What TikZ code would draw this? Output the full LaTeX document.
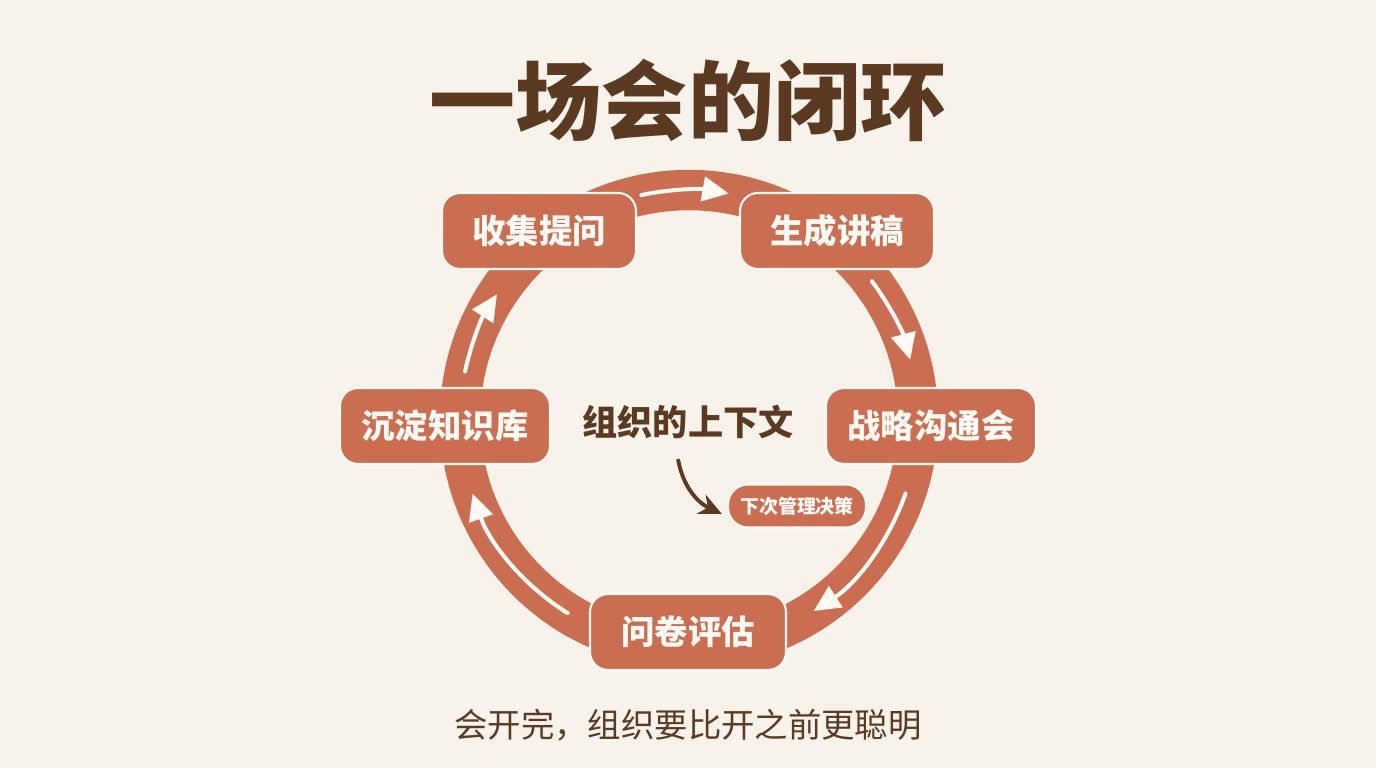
\documentclass[tikz,border=0pt]{standalone}
\usepackage{fontspec}
\newfontfamily\cjk{Noto Sans CJK SC}
\definecolor{CreamBg}{RGB}{247, 243, 234}
\definecolor{RingOrange}{RGB}{203, 109, 81}
\definecolor{DarkBrown}{RGB}{92, 58, 34}
\definecolor{SoftWhite}{RGB}{255, 251, 244}
\usetikzlibrary{arrows.meta}

\begin{document}
\begin{tikzpicture}[
        x=0.02cm, y=0.02cm,
        stage/.style={draw=SoftWhite, line width=1.2pt, rounded corners=0.36cm,
                     fill=RingOrange, text=SoftWhite, inner sep=0pt,
                     minimum height=1.52cm, minimum width=3.88cm,
                     font=\cjk\bfseries\fontsize{19}{22}\selectfont},
        flow/.style={line width=2.3pt, SoftWhite, line cap=round,
                     -{Triangle[length=15pt, width=14pt]}},
        ring/.style={line width=23pt, RingOrange}
    ]
        \fill[CreamBg] (0,0) rectangle (1376,768);
        \useasboundingbox (0,0) rectangle (1376,768);

        \node[font=\cjk\bfseries\fontsize{49}{55}\selectfont, text=DarkBrown] (title) at (688,668) {一场会的闭环};

        \coordinate (hub) at (689,349);
        \draw[ring] (hub) circle[radius=4.58cm];

        % arrows along the ring
        \draw[flow] (hub) ++(102:4.58cm) arc[start angle=102, end angle=80, radius=4.58cm];
        \draw[flow] (hub) ++(37:4.58cm) arc[start angle=37, end angle=15, radius=4.58cm];
        \draw[flow] (hub) ++(-19:4.58cm) arc[start angle=-19, end angle=-57, radius=4.58cm];
        \draw[flow] (hub) ++(238:4.58cm) arc[start angle=238, end angle=199, radius=4.58cm];
        \draw[flow] (hub) ++(168:4.58cm) arc[start angle=168, end angle=147, radius=4.58cm];

        \node[stage] (ask) at (539,537) {收集提问};
        \node[stage] (draft) at (837,537) {生成讲稿};
        \node[stage, minimum width=4.2cm] (meeting) at (931,342) {战略沟通会};
        \node[stage, minimum width=3.92cm] (survey) at (688,136) {问卷评估};
        \node[stage, minimum width=4.2cm] (archive) at (445,342) {沉淀知识库};

        \node[font=\cjk\bfseries\fontsize{20}{24}\selectfont, text=DarkBrown] (context) at (688,346) {组织的上下文};
        \node[stage, minimum width=2.76cm, minimum height=0.86cm, rounded corners=0.4cm,
              font=\cjk\bfseries\fontsize{10.8}{12}\selectfont] (decision) at (797,262) {下次管理决策};

        \draw[DarkBrown, line width=2.2pt, -{Stealth[length=13pt, width=12pt]}]
            ([shift={(-10,-14)}]context.south) to[out=-80, in=155] ([shift={(-5,-8)}]decision.west);

        \node[font=\cjk\fontsize{19}{22}\selectfont, text=DarkBrown] (motto) at (688,43) {会开完，组织要比开之前更聪明};
    \end{tikzpicture}
\end{document}
